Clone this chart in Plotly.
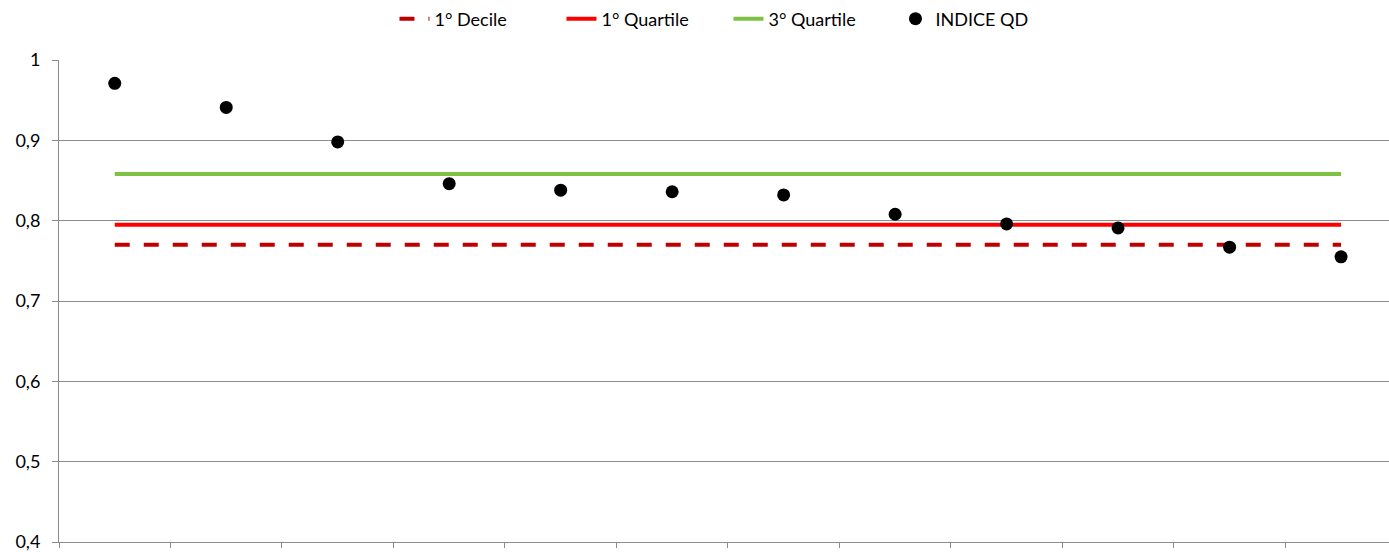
import plotly.graph_objects as go

categorie = list(range(1, 13))
indice_qd = [0.971, 0.941, 0.898, 0.846, 0.838, 0.836, 0.832, 0.808, 0.796, 0.791, 0.767, 0.755]
primo_decile = 0.770
primo_quartile = 0.795
terzo_quartile = 0.858
y_ticks = [0.4, 0.5, 0.6, 0.7, 0.8, 0.9, 1.0]
y_labels = ['0,4', '0,5', '0,6', '0,7', '0,8', '0,9', '1']

fig = go.Figure()
fig.add_trace(go.Scatter(x=categorie, y=[primo_decile] * len(categorie), mode='lines', name='1° Decile',
                         line=dict(color='#C00000', width=4, dash='15px,14px')))
fig.add_trace(go.Scatter(x=categorie, y=[primo_quartile] * len(categorie), mode='lines', name='1° Quartile',
                         line=dict(color='#FF0000', width=4)))
fig.add_trace(go.Scatter(x=categorie, y=[terzo_quartile] * len(categorie), mode='lines', name='3° Quartile',
                         line=dict(color='#7DC242', width=4)))
fig.add_trace(go.Scatter(x=categorie, y=indice_qd, mode='markers', name='INDICE QD',
                         marker=dict(color='black', size=13)))

confini = [c - 0.5 for c in categorie] + [categorie[-1] + 0.5]

fig.update_layout(
    width=1389, height=552,
    margin=dict(l=59, r=0, t=60, b=10),
    paper_bgcolor='white', plot_bgcolor='white',
    font=dict(family='Lato, Open Sans, sans-serif', size=18, color='black'),
    showlegend=True,
    legend=dict(orientation='h', x=0.284, xanchor='left', xref='container',
                y=1 - 19 / 552, yanchor='middle', yref='container',
                font=dict(size=18), entrywidth=122, tracegroupgap=0),
    xaxis=dict(range=[0.5, 12.43], tickvals=confini, ticktext=[''] * len(confini),
               showgrid=False, zeroline=False, showline=True, linecolor='#8C8C8C', linewidth=1,
               ticks='outside', ticklen=5, tickcolor='#8C8C8C'),
    yaxis=dict(range=[0.4, 1.0], tickvals=y_ticks, ticktext=y_labels,
               showgrid=True, gridcolor='#8C8C8C', gridwidth=1, zeroline=False,
               showline=True, linecolor='#8C8C8C', linewidth=1,
               ticks='outside', ticklen=6, tickcolor='#8C8C8C', ticklabelstandoff=8,
               ticklabeloverflow='allow'),
)

fig.write_html("out.html", config={'displayModeBar': False},
               post_script="document.body.style.margin = '0';")
